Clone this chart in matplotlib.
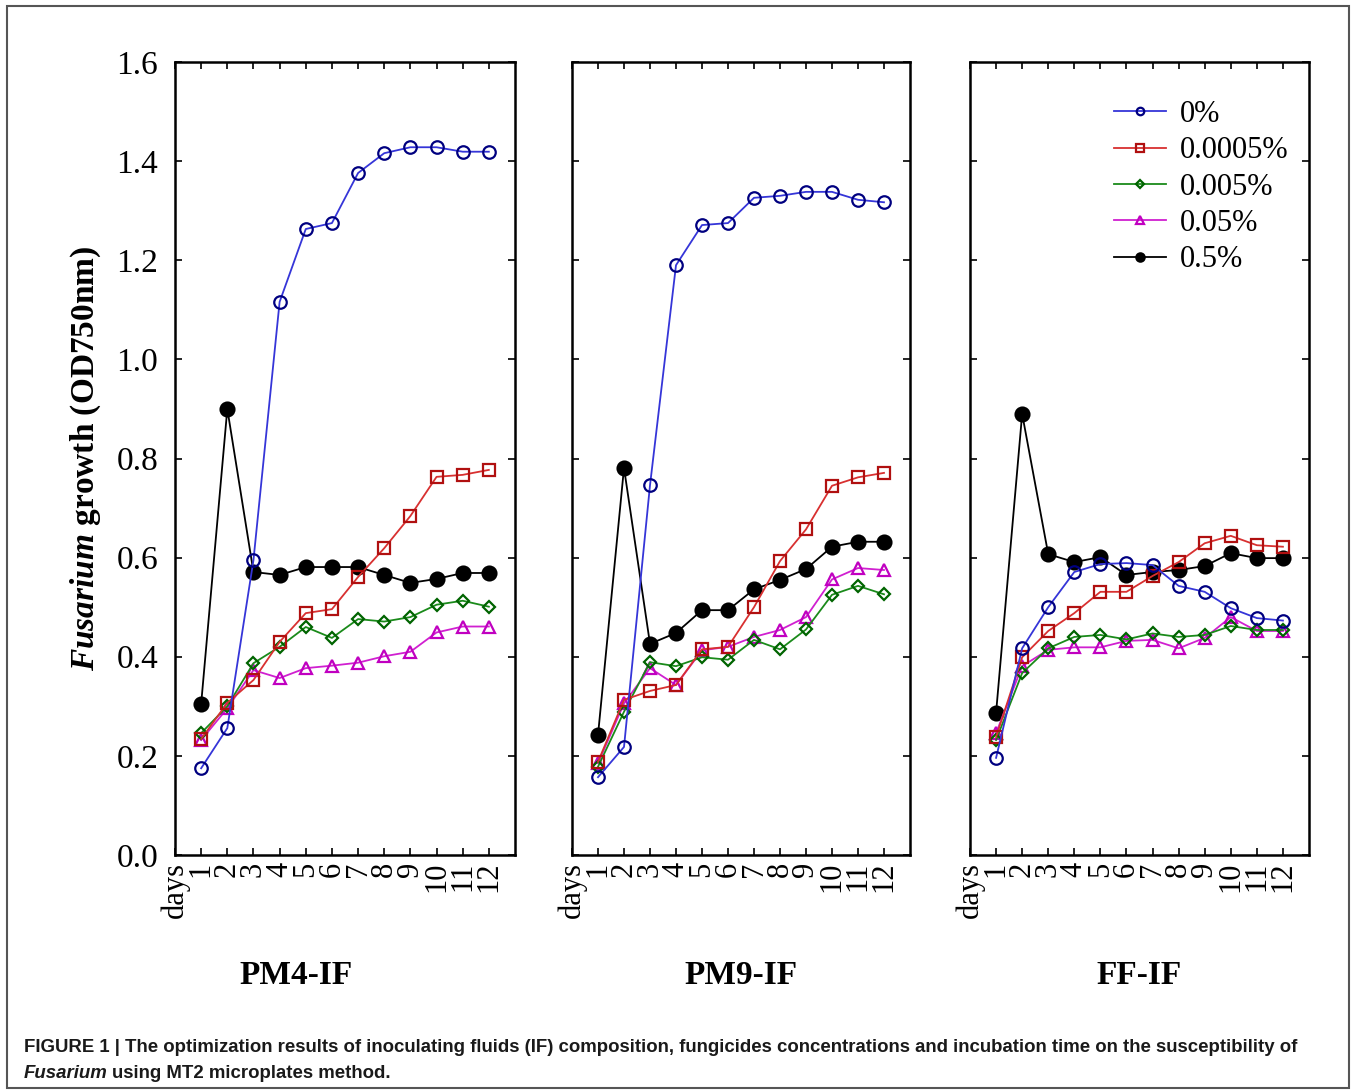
import matplotlib
matplotlib.use("Agg")
import matplotlib.pyplot as plt
from matplotlib.patches import Rectangle
import numpy as np

days = list(range(1, 13))
day_labels = ["days"] + [str(d) for d in days]
series_labels = ["0%", "0.0005%", "0.005%", "0.05%", "0.5%"]
panel_titles = ["PM4-IF", "PM9-IF", "FF-IF"]

# PM4-IF
pm4_0 = [0.175, 0.256, 0.595, 1.116, 1.263, 1.275, 1.376, 1.416, 1.428, 1.428, 1.419, 1.419]
pm4_00005 = [0.234, 0.307, 0.353, 0.430, 0.488, 0.496, 0.561, 0.619, 0.684, 0.763, 0.767, 0.777]
pm4_0005 = [0.246, 0.300, 0.387, 0.420, 0.460, 0.438, 0.476, 0.471, 0.480, 0.505, 0.513, 0.501]
pm4_005 = [0.232, 0.296, 0.373, 0.357, 0.377, 0.382, 0.388, 0.401, 0.410, 0.449, 0.461, 0.461]
pm4_05 = [0.305, 0.900, 0.571, 0.565, 0.581, 0.581, 0.581, 0.565, 0.549, 0.557, 0.569, 0.569]

# PM9-IF
pm9_0 = [0.157, 0.218, 0.746, 1.190, 1.271, 1.275, 1.326, 1.330, 1.338, 1.338, 1.322, 1.317]
pm9_00005 = [0.188, 0.313, 0.331, 0.343, 0.415, 0.420, 0.500, 0.593, 0.657, 0.745, 0.762, 0.771]
pm9_0005 = [0.178, 0.289, 0.389, 0.381, 0.399, 0.394, 0.434, 0.415, 0.455, 0.525, 0.543, 0.526]
pm9_005 = [0.185, 0.306, 0.377, 0.343, 0.413, 0.420, 0.440, 0.454, 0.480, 0.556, 0.579, 0.575]
pm9_05 = [0.242, 0.781, 0.426, 0.448, 0.494, 0.494, 0.536, 0.555, 0.577, 0.622, 0.632, 0.632]

# FF-IF
ff_0 = [0.196, 0.417, 0.500, 0.571, 0.587, 0.589, 0.585, 0.543, 0.531, 0.498, 0.478, 0.473]
ff_00005 = [0.238, 0.399, 0.452, 0.488, 0.531, 0.531, 0.563, 0.591, 0.629, 0.644, 0.625, 0.622]
ff_0005 = [0.232, 0.367, 0.417, 0.440, 0.444, 0.435, 0.447, 0.440, 0.444, 0.462, 0.454, 0.454]
ff_005 = [0.246, 0.381, 0.414, 0.419, 0.419, 0.432, 0.434, 0.417, 0.438, 0.480, 0.452, 0.452]
ff_05 = [0.287, 0.890, 0.607, 0.591, 0.601, 0.565, 0.571, 0.575, 0.583, 0.609, 0.599, 0.599]

panels = [
    [pm4_0, pm4_00005, pm4_0005, pm4_005, pm4_05],
    [pm9_0, pm9_00005, pm9_0005, pm9_005, pm9_05],
    [ff_0, ff_00005, ff_0005, ff_005, ff_05],
]

styles = [
    dict(color="#3535d8", marker="o", mec="#000080", mfc="none"),
    dict(color="#d83030", marker="s", mec="#b01010", mfc="none"),
    dict(color="#1a8a1a", marker="D", mec="#006400", mfc="none"),
    dict(color="#d020d0", marker="^", mec="#c000c0", mfc="none"),
    dict(color="#000000", marker="o", mec="#000000", mfc="#000000"),
]
msizes = [9, 9, 6.5, 9, 10]

plt.rcParams["font.family"] = ["Liberation Serif", "DejaVu Serif"]
plt.rcParams["mathtext.fontset"] = "custom"
plt.rcParams["mathtext.it"] = "Liberation Serif:italic:bold"
plt.rcParams["mathtext.rm"] = "Liberation Serif:bold"
plt.rcParams["mathtext.bf"] = "Liberation Serif:bold"

W, H = 1357, 1091
fig = plt.figure(figsize=(W / 100, H / 100), dpi=100)
fig.patch.set_facecolor("white")

lefts = [175, 572, 970]
widths = [340, 338, 339]
top_px, bot_px = 62, 855
title_cx = [296, 741, 1139]

axes = []
for i in range(3):
    ax = fig.add_axes([lefts[i] / W, 1 - bot_px / H, widths[i] / W, (bot_px - top_px) / H])
    axes.append(ax)
    for j, ser in enumerate(panels[i]):
        st = styles[j]
        ax.plot(days, ser, color=st["color"], marker=st["marker"], mec=st["mec"],
                mfc=st["mfc"], ms=msizes[j], mew=1.6, lw=1.3, label=series_labels[j],
                zorder=3 + (4 - j) * 0.1)
    ax.set_xlim(0, 13)
    ax.set_ylim(0, 1.6)
    ax.set_yticks(np.arange(0, 1.61, 0.2))
    ax.set_xticks(range(0, 13))
    ax.set_xticklabels(day_labels, rotation=90, va="top", ha="center", fontsize=22)
    ax.tick_params(axis="both", direction="in", length=5, width=1.2,
                   top=True, right=True)
    ax.tick_params(axis="y", labelsize=24, pad=12)
    ax.tick_params(axis="x", pad=5)
    for sp in ax.spines.values():
        sp.set_linewidth(1.8)
    if i == 0:
        ax.set_yticklabels(["%.1f" % v for v in np.arange(0, 1.61, 0.2)])
        ax.set_ylabel(r"$\mathit{Fusarium}$ growth (OD750nm)", fontsize=24,
                      fontweight="bold", labelpad=10)
    else:
        ax.set_yticklabels([])
    fig.text(title_cx[i] / W, 1 - 975 / H, panel_titles[i], ha="center", va="center",
             fontsize=24, fontweight="bold")

leg = axes[2].legend(loc="upper left", bbox_to_anchor=(0.37, 0.975), frameon=False,
                     fontsize=22, handlelength=1.7, handletextpad=0.45,
                     labelspacing=0.24, markerscale=0.6, borderaxespad=0.2)

# caption
cap_font = ["Liberation Sans Narrow", "Liberation Sans"]
fig.text(24 / W, 1 - 1048 / H,
         "FIGURE 1 | The optimization results of inoculating fluids (IF) composition, fungicides concentrations and incubation time on the susceptibility of",
         ha="left", va="center", fontsize=13.4, fontweight="bold", family=cap_font, color="#1a1a1a")
t_it = fig.text(24 / W, 1 - 1073 / H, "Fusarium", ha="left", va="center", fontsize=13.4,
                fontweight="bold", style="italic", family=cap_font, color="#1a1a1a")
fig.canvas.draw()
bb = t_it.get_window_extent()
fig.text(bb.x1 / W + 4 / W, 1 - 1073 / H, "using MT2 microplates method.", ha="left", va="center",
         fontsize=13.4, fontweight="bold", family=cap_font, color="#1a1a1a")

# outer border
fig.add_artist(Rectangle((7 / W, 1 - 1088 / H), (1349 - 7) / W, (1088 - 6) / H,
                         transform=fig.transFigure, fill=False, edgecolor="#555555", lw=1.5))

fig.savefig("out.png", dpi=100, facecolor="white")
